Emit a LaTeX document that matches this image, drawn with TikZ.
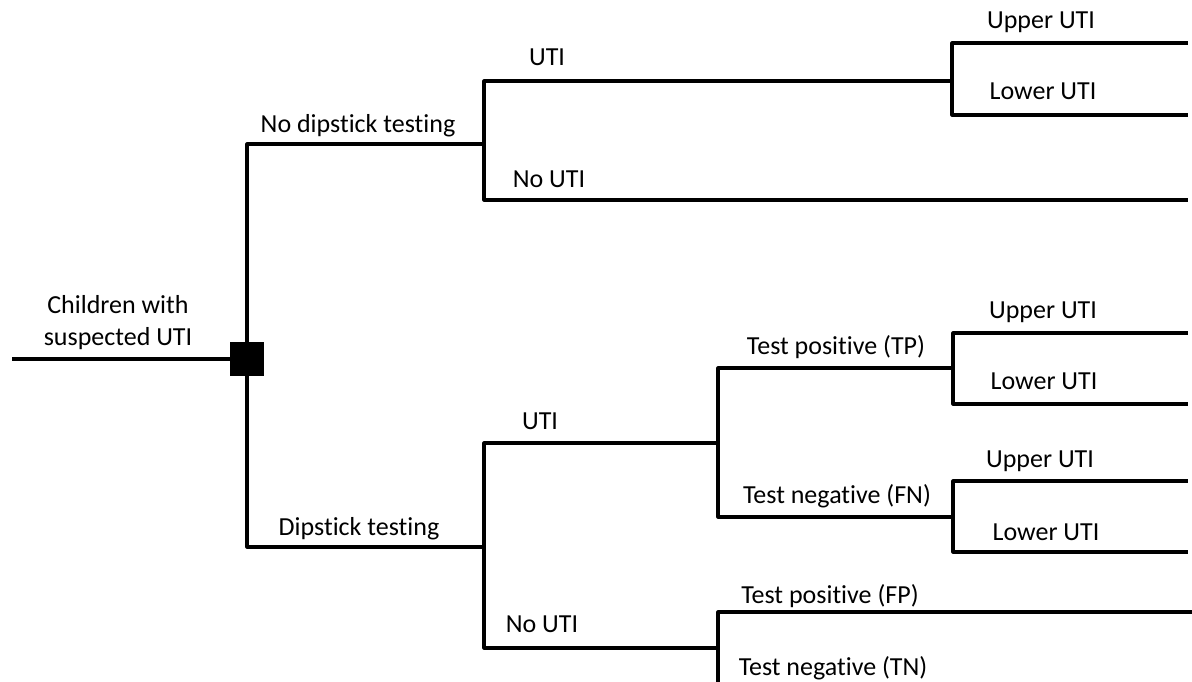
\documentclass[tikz,border=0pt]{standalone}
\usepackage{fontspec}
\setmainfont{Carlito}[Ligatures=NoCommon]
\begin{document}
\begin{tikzpicture}[x=0.5pt,y=-0.5pt,
  branch/.style={line width=1.6pt,line join=round},
  lbl/.style={anchor=base,inner sep=0pt,font=\fontsize{13}{15}\selectfont},
  decision/.style={fill=black,minimum size=17pt,inner sep=0pt}]
\useasboundingbox (0,0) rectangle (1192,681);
\clip (0,0) rectangle (1192,681);
% junction coordinates
\coordinate (start) at (12,359);
\coordinate (d) at (247,359);
\coordinate (c1) at (484,144);
\coordinate (c2) at (484,547);
\coordinate (c3) at (952,81);
\coordinate (e1) at (1188,200);
\coordinate (e2) at (1188,43);
\coordinate (e3) at (1188,115);
\coordinate (c4) at (718,443);
\coordinate (c5) at (718,648);
\coordinate (c6) at (953,368);
\coordinate (c7) at (953,517);
\coordinate (e4) at (1188,333);
\coordinate (e5) at (1188,404);
\coordinate (e6) at (1188,481);
\coordinate (e7) at (1188,552);
\coordinate (e8) at (1192,612);
\coordinate (e9) at (718,700);
% connectors
\draw[branch] (start) -- (d);
\draw[branch] (d) |- (c1);
\draw[branch] (d) |- (c2);
\draw[branch] (c1) |- (c3);
\draw[branch] (c1) |- (e1);
\draw[branch] (c3) |- (e2);
\draw[branch] (c3) |- (e3);
\draw[branch] (c2) |- (c4);
\draw[branch] (c2) |- (c5);
\draw[branch] (c4) |- (c6);
\draw[branch] (c4) |- (c7);
\draw[branch] (c6) |- (e4);
\draw[branch] (c6) |- (e5);
\draw[branch] (c7) |- (e6);
\draw[branch] (c7) |- (e7);
\draw[branch] (c5) |- (e8);
\draw[branch] (c5) -- (e9);
\node[decision] (dec) at (d) {};
% labels
\node[lbl] (root1) at (118,313) {Children with};
\node[lbl] (root2) at (118,345) {suspected UTI};
\node[lbl] (l1) at (358,132) {No dipstick testing};
\node[lbl] (l2) at (547,65) {UTI};
\node[lbl] (l3) at (549,187) {No UTI};
\node[lbl] (l4) at (1041,28) {Upper UTI};
\node[lbl] (l5) at (1043,99) {Lower UTI};
\node[lbl] (l6) at (359,535) {Dipstick testing};
\node[lbl] (l7) at (540,429) {UTI};
\node[lbl] (l8) at (542,632) {No UTI};
\node[lbl] (l9) at (836,354) {Test positive (TP)};
\node[lbl] (l10) at (837,503) {Test negative (FN)};
\node[lbl] (l11) at (1043,318) {Upper UTI};
\node[lbl] (l12) at (1044,389) {Lower UTI};
\node[lbl] (l13) at (1040,467) {Upper UTI};
\node[lbl] (l14) at (1046,540) {Lower UTI};
\node[lbl] (l15) at (830,603) {Test positive (FP)};
\node[lbl] (l16) at (833,675) {Test negative (TN)};
\end{tikzpicture}
\end{document}
